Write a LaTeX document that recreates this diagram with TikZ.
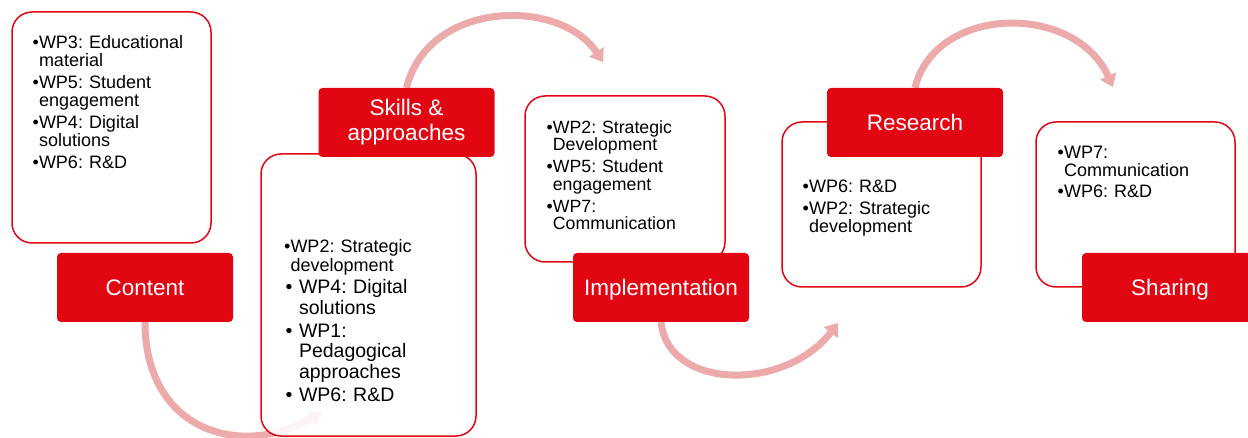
\documentclass[tikz,border=0pt]{standalone}
\usepackage{fontspec}
\setmainfont{Liberation Sans}
\usetikzlibrary{arrows.meta,backgrounds}
\definecolor{wpred}{RGB}{226,6,19}
\definecolor{arcpink}{RGB}{236,170,170}
\newcommand{\bh}{\phantom{\textbullet}}
\newcommand{\bhs}{\phantom{\textbullet\ }}
\frenchspacing
\tikzset{
  wpbox/.style={draw=wpred, line width=1.5pt, fill=white, fill opacity=0.88, draw opacity=1, rounded corners=20pt, inner sep=0},
  wplabel/.style={fill=wpred, rounded corners=4pt, text=white, font=\fontsize{22.5}{25}\selectfont, align=center, inner sep=0, minimum width=176pt, minimum height=69pt},
  onelabel/.style={text height=16.5pt, text depth=0pt},
  wptext/.style={anchor=base west, inner sep=0, align=left, text width=200pt, text=black},
  flow/.style={draw=arcpink, line width=7pt, -{Triangle[width=17pt,length=12pt]}}
}
\begin{document}
\begin{tikzpicture}[x=1pt,y=-1pt]
\clip (0,0) rectangle (1248,438);
% white boxes
\node[wpbox, minimum width=199pt, minimum height=231pt] (b1) at (111.5,127.5) {};
\node[wpbox, minimum width=215pt, minimum height=282pt] (b2) at (368.5,295) {};
\node[wpbox, minimum width=200pt, minimum height=166pt] (b3) at (625,179) {};
\node[wpbox, minimum width=199pt, minimum height=165pt] (b4) at (881.5,204.5) {};
\node[wpbox, minimum width=199pt, minimum height=165pt] (b5) at (1135.5,204.5) {};
% texts
\node[wptext, font=\fontsize{18}{18.5}\selectfont] (t1) at (32.5,48.5)
  {\textbullet WP3: Educational\\\bh material\\[3pt]
   \textbullet WP5: Student\\\bh engagement\\[3pt]
   \textbullet WP4: Digital\\\bh solutions\\[3pt]
   \textbullet WP6: R\&D};
\node[wptext, font=\fontsize{18}{19}\selectfont] (t2a) at (284,252.5)
  {\textbullet WP2: Strategic\\\bh development};
\node[wptext, font=\fontsize{19.5}{20.5}\selectfont] (t2b) at (285.5,294)
  {\textbullet\ WP4: Digital\\\bhs solutions\\[2.5pt]
   \textbullet\ WP1:\\\bhs Pedagogical\\\bhs approaches\\[2.5pt]
   \textbullet\ WP6: R\&D};
\node[wptext, font=\fontsize{17.7}{17.5}\selectfont] (t3) at (546.5,133.5)
  {\textbullet WP2: Strategic\\\bh Development\\[4.5pt]
   \textbullet WP5: Student\\\bh engagement\\[4.5pt]
   \textbullet WP7:\\\bh Communication};
\node[wptext, font=\fontsize{18}{18}\selectfont] (t4) at (802.5,192.5)
  {\textbullet WP6: R\&D\\[4pt]
   \textbullet WP2: Strategic\\\bh development};
\node[wptext, font=\fontsize{18}{18}\selectfont] (t5) at (1057.5,158.5)
  {\textbullet WP7:\\\bh Communication\\[3pt]
   \textbullet WP6: R\&D};
% red labels
\node[wplabel, onelabel] (l1) at (145,287.5) {Content};
\node[wplabel] (l2) at (406.5,122.5) {Skills \&\\approaches};
\node[wplabel, onelabel] (l3) at (661,287.5) {Implementation};
\node[wplabel, onelabel] (l4) at (915,122.5) {Research};
\node[wplabel, onelabel] (l5) at (1170,287.5) {Sharing};
% arrow ends
\coordinate (e1) at (322,412);
\coordinate (e2) at (603,62);
\coordinate (e3) at (838,323);
\coordinate (e4) at (1113,87);
\begin{pgfonlayer}{background}
\draw[flow] (l1.south) .. controls (145,430) and (240,460) .. (e1);
\draw[flow] (l2.north) .. controls (428,0) and (560,-3) .. (e2);
\draw[flow] (l3.south) .. controls (668,390) and (785,392) .. (e3);
\draw[flow] (l4.north) .. controls (935,5) and (1075,2) .. (e4);
\end{pgfonlayer}
\end{tikzpicture}
\end{document}
